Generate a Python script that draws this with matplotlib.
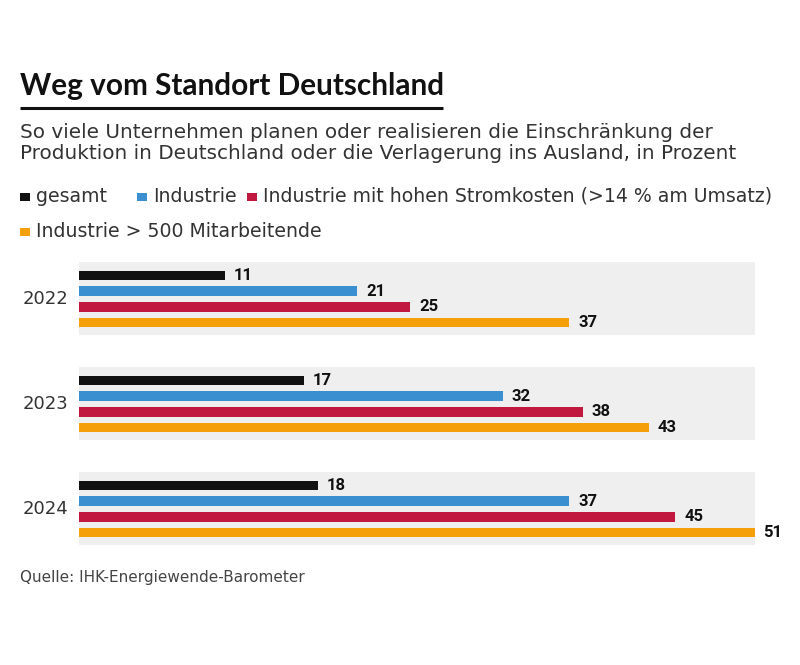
import matplotlib
matplotlib.use("Agg")
import matplotlib.pyplot as plt
from matplotlib.patches import Rectangle
from matplotlib.lines import Line2D

years = ["2022", "2023", "2024"]
series_names = ["gesamt", "Industrie",
                "Industrie mit hohen Stromkosten (>14 % am Umsatz)",
                "Industrie > 500 Mitarbeitende"]
gesamt = [11, 17, 18]
industrie = [21, 32, 37]
strom = [25, 38, 45]
gross = [37, 43, 51]
colors = ["#111111", "#3a8fd0", "#c0183f", "#f5a00a"]

title = "Weg vom Standort Deutschland"
subtitle_lines = ["So viele Unternehmen planen oder realisieren die Einschränkung der",
                  "Produktion in Deutschland oder die Verlagerung ins Ausland, in Prozent"]
source = "Quelle: IHK-Energiewende-Barometer"

W, H = 800, 665
fig = plt.figure(figsize=(W / 100, H / 100), dpi=100)
fig.patch.set_facecolor("white")

def fx(x):
    return x / W

def fy(y):
    return 1 - y / H

TFONT = "Lato"
BFONT = "DejaVu Sans"

# Header
fig.text(fx(20), fy(95), title, fontsize=21.4, fontweight="bold", family=TFONT,
         color="#111111", va="baseline", ha="left")
fig.add_artist(Line2D([fx(20), fx(443)], [fy(108), fy(108)], color="#111111",
                      lw=2.2, solid_capstyle="butt", transform=fig.transFigure))
for i, line in enumerate(subtitle_lines):
    fig.text(fx(20), fy(138 + 21 * i), line, fontsize=14.4, family=BFONT,
             color="#333333", va="baseline", ha="left")

# Legend
leg_items = [(0, 20, 197), (1, 137, 197), (2, 247, 197), (3, 20, 232)]
for idx, lx, ly in leg_items:
    fig.add_artist(Rectangle((fx(lx), fy(ly + 4)), 9.5 / W, 8 / H,
                             transform=fig.transFigure, color=colors[idx], lw=0))
    fig.text(fx(lx + 16), fy(ly + 5), series_names[idx], fontsize=13.6, family=BFONT,
             color="#333333", va="baseline", ha="left")

# Chart area
ax_left, ax_right = 79, 755
ax_top, ax_bot = 255, 550
ax = fig.add_axes([fx(ax_left), fy(ax_bot), (ax_right - ax_left) / W, (ax_bot - ax_top) / H])
ax.set_facecolor("none")
for s in ax.spines.values():
    s.set_visible(False)
ax.set_xticks([])
ax.set_yticks([])

slot = 15.7  # pixels per bar slot
group_step = 105 / slot
y0_px = 275.5
ax.set_xlim(0, 51)
ax.set_ylim((ax_bot - y0_px) / slot, -(y0_px - ax_top) / slot)

bar_h = 0.62
all_series = [gesamt, industrie, strom, gross]
for g, yr in enumerate(years):
    base = g * group_step
    ax.axhspan(base - 0.85, base + 3 + 0.82, xmin=0, xmax=1, color="#efefef", lw=0, zorder=0)
    for j, vals in enumerate(all_series):
        y = base + j
        ax.barh(y, vals[g], height=bar_h, color=colors[j], zorder=2)
        ax.text(vals[g] + 0.65, y, str(vals[g]), fontsize=12, fontweight="bold",
                family="Roboto", color="#111111", va="center", ha="left", clip_on=False)
    ax.text(-0.8, base + 1.5, yr, fontsize=13, family=BFONT, color="#333333",
            va="center", ha="right", clip_on=False)

fig.text(fx(20), fy(582), source, fontsize=11, family=BFONT, color="#444444",
         va="baseline", ha="left")

fig.savefig("out.png", dpi=100, facecolor="white")
